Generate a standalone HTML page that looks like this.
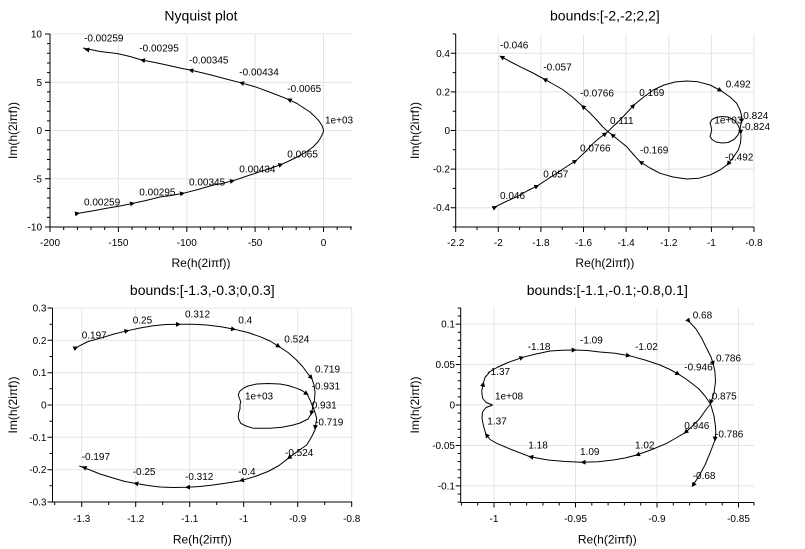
<!DOCTYPE html>
<html><head><meta charset="utf-8"><style>
html,body{margin:0;padding:0;background:#fff;}
svg{display:block;}
text{font-family:"Liberation Sans",Arial,sans-serif;fill:#000;}
.t{font-size:14px;text-anchor:middle;}
.al{font-size:12px;text-anchor:middle;}
.tx{font-size:10px;text-anchor:middle;}
.ty{font-size:10px;text-anchor:end;}
.d{font-size:10px;}
.g{stroke:#e4e4e4;stroke-width:1;fill:none;}
.ax{stroke:#000;stroke-width:1;fill:none;}
.c{stroke:#000;stroke-width:1;fill:none;stroke-linejoin:round;}
.m{stroke:none;fill:none;}
</style></head><body>
<svg width="805" height="549" viewBox="0 0 805 549" xmlns="http://www.w3.org/2000/svg">
<defs>
<marker id="a" viewBox="0 0 6 6" refX="4" refY="3" markerWidth="5" markerHeight="5" orient="auto" markerUnits="userSpaceOnUse"><path d="M0,0 L6,3 L0,6 z" fill="#000"/></marker>
</defs>
<rect width="805" height="549" fill="#fff"/>

<!-- ================= PLOT 1 ================= -->
<path class="g" d="M118.4,34V227M186.8,34V227M255.1,34V227M323.5,34V227M50,34H352M50,82.25H352M50,130.5H352M50,178.75H352"/>
<path class="ax" d="M50,227H352M50,34V227
M50,227v5M118.4,227v5M186.8,227v5M255.1,227v5M323.5,227v5
M63.7,227v3M77.4,227v3M91,227v3M104.7,227v3M132.1,227v3M145.8,227v3M159.4,227v3M173.1,227v3M200.4,227v3M214.1,227v3M227.8,227v3M241.4,227v3M268.8,227v3M282.5,227v3M296.2,227v3M309.8,227v3M337.2,227v3M350.9,227v3
M50,34h-5M50,82.25h-5M50,130.5h-5M50,178.75h-5M50,227h-5
M50,43.65h-3M50,53.3h-3M50,62.95h-3M50,72.6h-3M50,91.9h-3M50,101.55h-3M50,111.2h-3M50,120.85h-3M50,140.15h-3M50,149.8h-3M50,159.45h-3M50,169.1h-3M50,188.4h-3M50,198.05h-3M50,207.7h-3M50,217.35h-3"/>
<text class="t" x="201" y="20.5">Nyquist plot</text>
<text class="tx" x="50" y="246">-200</text>
<text class="tx" x="118.4" y="246">-150</text>
<text class="tx" x="186.8" y="246">-100</text>
<text class="tx" x="255.1" y="246">-50</text>
<text class="tx" x="323.5" y="246">0</text>
<text class="ty" x="42" y="37.5">10</text>
<text class="ty" x="42" y="85.75">5</text>
<text class="ty" x="42" y="134">0</text>
<text class="ty" x="42" y="182.25">-5</text>
<text class="ty" x="42" y="230.5">-10</text>
<text class="al" x="201" y="267">Re(h(2iπf))</text>
<text class="al" transform="translate(17,130.5) rotate(-90)">Im(h(2iπf))</text>

<polyline class="c" points="83,48 100,51.5 117,53.5 130,56.5 141.7,60 155,62.5 166.7,65 180,68 190,70 203,73 213,75.5 228,79.5 240.7,82.7 256.7,87.3 272,93 288.3,99.3 297,103.5 303,107.5 310,112 315,116.7 319,121 321.7,125 323,128 323.5,130.5 323,133 321,137 318.3,141.5 313,147 307,151.5 300,155.5 291,160 281.7,164.3 270,168.5 260,171.7 247,176 233.3,180.7 222,183.5 213.3,185 198,189.5 183.3,193.3 171,195.5 160,197 146,200.5 133.3,203.3 120,206 106.7,208.3 92,211 78.3,213.3"/>
<path class="m" marker-end="url(#a)" d="M297,103.5L288.3,99.3"/>
<path class="m" marker-end="url(#a)" d="M256.7,87.3L240.7,82.7"/>
<path class="m" marker-end="url(#a)" d="M203,73L190,70"/>
<path class="m" marker-end="url(#a)" d="M155,62.5L141.7,60"/>
<path class="m" marker-end="url(#a)" d="M100,51.5L86,49.5"/>
<path class="m" marker-end="url(#a)" d="M70,214.7L78.3,213.3"/>
<path class="m" marker-end="url(#a)" d="M120,206L133.3,203.3"/>
<path class="m" marker-end="url(#a)" d="M171,195.5L183.3,193.3"/>
<path class="m" marker-end="url(#a)" d="M222,183.5L233.3,180.7"/>
<path class="m" marker-end="url(#a)" d="M270,168.5L281.7,164.3"/>
<text class="d" x="84" y="41.7">-0.00259</text>
<text class="d" x="139.3" y="51.7">-0.00295</text>
<text class="d" x="189" y="63.3">-0.00345</text>
<text class="d" x="239.3" y="75.3">-0.00434</text>
<text class="d" x="287.3" y="92">-0.0065</text>
<text class="d" x="325" y="123.3">1e+03</text>
<text class="d" x="287.3" y="157.3">0.0065</text>
<text class="d" x="239.3" y="172.3">0.00434</text>
<text class="d" x="189" y="185.7">0.00345</text>
<text class="d" x="139.3" y="195.7">0.00295</text>
<text class="d" x="84" y="205.7">0.00259</text>

<!-- ================= PLOT 2 ================= -->
<path class="g" d="M498.3,34V227M540.9,34V227M583.5,34V227M626.1,34V227M668.8,34V227M711.4,34V227M754,34V227M455.7,53.3H754M455.7,91.9H754M455.7,130.5H754M455.7,169.1H754M455.7,207.7H754"/>
<path class="ax" d="M455.7,227H754M455.7,34V227
M455.7,227v5M498.3,227v5M540.9,227v5M583.5,227v5M626.1,227v5M668.8,227v5M711.4,227v5M754,227v5
M477,227v3M519.6,227v3M562.2,227v3M604.8,227v3M647.5,227v3M690.1,227v3M732.7,227v3
M455.7,53.3h-5M455.7,91.9h-5M455.7,130.5h-5M455.7,169.1h-5M455.7,207.7h-5
M455.7,34h-3M455.7,72.6h-3M455.7,111.2h-3M455.7,149.8h-3M455.7,188.4h-3M455.7,227h-3"/>
<text class="t" x="604.9" y="20.5">bounds:[-2,-2;2,2]</text>
<text class="tx" x="455.7" y="246">-2.2</text>
<text class="tx" x="498.3" y="246">-2</text>
<text class="tx" x="540.9" y="246">-1.8</text>
<text class="tx" x="583.5" y="246">-1.6</text>
<text class="tx" x="626.1" y="246">-1.4</text>
<text class="tx" x="668.8" y="246">-1.2</text>
<text class="tx" x="711.4" y="246">-1</text>
<text class="tx" x="754" y="246">-0.8</text>
<text class="ty" x="450" y="56.8">0.4</text>
<text class="ty" x="450" y="95.4">0.2</text>
<text class="ty" x="450" y="134">0</text>
<text class="ty" x="450" y="172.6">-0.2</text>
<text class="ty" x="450" y="211.2">-0.4</text>
<text class="al" x="604.9" y="267">Re(h(2iπf))</text>
<text class="al" transform="translate(419,130.5) rotate(-90)">Im(h(2iπf))</text>

<polyline class="c" points="500,56 510,61.5 520,66.7 532,72.5 544,79 553,84 563.3,90 573,97.5 582.3,106 590,113 596.7,120 602,126 606.7,130.7 611.7,134.5 619,140.5 626.7,146.7 633,154 640,161.7 650,168 660,173.3 673,177 686.7,179 699,178.2 710,175 720,170 727.7,164.3 733.5,157 738.3,150 740.5,143 741,136.7 740.7,132.5 740,130 738,125 734,120 728,117 722,116.5 716,117.5 712,119.5 710,123 711,126.5 711.7,130"/>
<polyline class="c" points="494.3,207.3 505,202 516.7,196.7 527,191 537.7,185.7 547,179.5 556.7,173.3 566,167 576,160.7 585,152 593.3,143.3 600,137.5 606,133.3 613,126.5 620,120 627,112.5 634,105 643,97.5 653.3,90 664,85 675,82 686.7,81 698,81.8 710,85 721,90.7 730,97 736.7,103.3 740,110 741.7,116 741.5,121.7 740.5,126 740,130 738,135 734,139.5 728,142.5 722,143 716,142 712,139.5 710,136.5 711,133 711.7,130"/>
<path class="m" marker-end="url(#a)" d="M740.5,128L740.7,133"/>
<path class="m" marker-end="url(#a)" d="M733.5,157L727.7,164.3"/>
<path class="m" marker-end="url(#a)" d="M650,168L640,161.7"/>
<path class="m" marker-end="url(#a)" d="M619,140.5L611.7,134.5"/>
<path class="m" marker-end="url(#a)" d="M590,113L582.3,106"/>
<path class="m" marker-end="url(#a)" d="M553,84L544,79"/>
<path class="m" marker-end="url(#a)" d="M510,61.5L501,56.7"/>
<path class="m" marker-end="url(#a)" d="M490,209.5L495.7,207"/>
<path class="m" marker-end="url(#a)" d="M527,191L537.7,185.7"/>
<path class="m" marker-end="url(#a)" d="M566,167L576,160.7"/>
<path class="m" marker-end="url(#a)" d="M600,137.5L606,133.3"/>
<path class="m" marker-end="url(#a)" d="M627,112.5L634,105"/>
<path class="m" marker-end="url(#a)" d="M710,85L721,90.7"/>
<path class="m" marker-end="url(#a)" d="M741.7,116L741.6,121.7"/>
<text class="d" x="500" y="48.5">-0.046</text>
<text class="d" x="543.3" y="70.5">-0.057</text>
<text class="d" x="580" y="96.5">-0.0766</text>
<text class="d" x="639.3" y="96">0.169</text>
<text class="d" x="725.7" y="87.5">0.492</text>
<text class="d" x="610" y="124">0.111</text>
<text class="d" x="714.3" y="123.3">1e+03</text>
<text class="d" x="743.3" y="119">0.824</text>
<text class="d" x="741.7" y="130">-0.824</text>
<text class="d" x="580" y="151.7">0.0766</text>
<text class="d" x="640" y="153.3">-0.169</text>
<text class="d" x="725" y="160.7">-0.492</text>
<text class="d" x="543.3" y="177.7">0.057</text>
<text class="d" x="500" y="199">0.046</text>

<!-- ================= PLOT 3 ================= -->
<path class="g" d="M81.7,308V502M135.7,308V502M189.7,308V502M243.7,308V502M297.7,308V502M351.7,308V502M52.5,308H352M52.5,340.3H352M52.5,372.7H352M52.5,405H352M52.5,437.3H352M52.5,469.7H352"/>
<path class="ax" d="M52.5,502H352M52.5,308V502
M81.7,502v5M135.7,502v5M189.7,502v5M243.7,502v5M297.7,502v5M351.7,502v5
M54.7,502v3M108.7,502v3M162.7,502v3M216.7,502v3M270.7,502v3M324.7,502v3
M52.5,308h-5M52.5,340.3h-5M52.5,372.7h-5M52.5,405h-5M52.5,437.3h-5M52.5,469.7h-5M52.5,502h-5
M52.5,324.2h-3M52.5,356.5h-3M52.5,388.8h-3M52.5,421.2h-3M52.5,453.5h-3M52.5,485.8h-3"/>
<text class="t" x="202.3" y="295">bounds:[-1.3,-0.3;0,0.3]</text>
<text class="tx" x="81.7" y="522">-1.3</text>
<text class="tx" x="135.7" y="522">-1.2</text>
<text class="tx" x="189.7" y="522">-1.1</text>
<text class="tx" x="243.7" y="522">-1</text>
<text class="tx" x="297.7" y="522">-0.9</text>
<text class="tx" x="351.7" y="522">-0.8</text>
<text class="ty" x="46.5" y="311.5">0.3</text>
<text class="ty" x="46.5" y="343.8">0.2</text>
<text class="ty" x="46.5" y="376.2">0.1</text>
<text class="ty" x="46.5" y="408.5">0</text>
<text class="ty" x="46.5" y="440.8">-0.1</text>
<text class="ty" x="46.5" y="473.2">-0.2</text>
<text class="ty" x="46.5" y="505.5">-0.3</text>
<text class="al" x="202.3" y="543.5">Re(h(2iπf))</text>
<text class="al" transform="translate(17,405) rotate(-90)">Im(h(2iπf))</text>

<polyline class="c" points="76.7,347.3 88,341.5 100,338.3 114,334 127.7,330.7 140,328 153.3,325.7 166,324.5 179.3,324.3 193,324.3 206.7,325 221,326.8 234.3,329.3 248,332.5 260,336.7 270,341 279.3,346.7 288,352.5 296,359.5 303,367 308,374 311.7,378.3 314,385 315,392 314.5,400 312.7,406.7 311.7,413 308,419 300,423 293.3,425 282,427.3 270,428.3 260,428.3 253.3,428.3 246,426 240.7,423.3 238.3,418 238.5,413.3 240,409 240,405"/>
<polyline class="c" points="79.3,466 90,470 100,474 113,478 125,481.5 135,483.3 148,485.5 160,487 173,487.5 186.7,487.3 200,486.5 213,485 227,483 240.7,480.7 255,476.5 268,471.5 279,465.5 288.3,458.3 298,451 306.7,445 311.5,437 315,430 316.7,418.3 314.5,411 312.7,406.7 310,400 307.3,394.3 302,390.5 296.7,388.3 288,385.5 280,384 268,383.5 256.7,384 248,386 243.3,388.3 239.5,391.5 238.3,395 239.5,398.5 240.7,401.7 240,405"/>
<path class="m" marker-end="url(#a)" d="M70,350.5L76.7,347.3"/>
<path class="m" marker-end="url(#a)" d="M114,334L127.7,330.7"/>
<path class="m" marker-end="url(#a)" d="M166,324.5L179.3,324.3"/>
<path class="m" marker-end="url(#a)" d="M221,326.8L234.3,329.3"/>
<path class="m" marker-end="url(#a)" d="M270,341L279.3,346.7"/>
<path class="m" marker-end="url(#a)" d="M308,374L311.7,378.3"/>
<path class="m" marker-end="url(#a)" d="M312.7,406.7L311.2,414"/>
<path class="m" marker-end="url(#a)" d="M302,390.5L307.3,394.3"/>
<path class="m" marker-end="url(#a)" d="M316.7,418.3L315,428.3"/>
<path class="m" marker-end="url(#a)" d="M298,451L288.3,458.3"/>
<path class="m" marker-end="url(#a)" d="M255,476.5L240.7,480.7"/>
<path class="m" marker-end="url(#a)" d="M200,486.5L186.7,487.3"/>
<path class="m" marker-end="url(#a)" d="M148,485.5L135,483.3"/>
<path class="m" marker-end="url(#a)" d="M90,470L83.3,467"/>
<text class="d" x="81.7" y="338.3">0.197</text>
<text class="d" x="132.7" y="323.3">0.25</text>
<text class="d" x="185" y="317.7">0.312</text>
<text class="d" x="238.3" y="323.3">0.4</text>
<text class="d" x="284.3" y="342.7">0.524</text>
<text class="d" x="315" y="372.7">0.719</text>
<text class="d" x="311.7" y="389.3">-0.931</text>
<text class="d" x="245" y="399.3">1e+03</text>
<text class="d" x="311.7" y="408.3">0.931</text>
<text class="d" x="315" y="425.7">-0.719</text>
<text class="d" x="285" y="456">-0.524</text>
<text class="d" x="81.7" y="460">-0.197</text>
<text class="d" x="132.7" y="475">-0.25</text>
<text class="d" x="185" y="480">-0.312</text>
<text class="d" x="238.3" y="475">-0.4</text>

<!-- ================= PLOT 4 ================= -->
<path class="g" d="M494,308V502.5M575.5,308V502.5M657,308V502.5M738.5,308V502.5M460.7,324.1H754M460.7,364.5H754M460.7,405H754M460.7,445.5H754M460.7,485.9H754"/>
<path class="ax" d="M460.7,502.5H754M460.7,308V502.5
M494,502.5v5M575.5,502.5v5M657,502.5v5M738.5,502.5v5
M461.4,502.5v3M477.7,502.5v3M510.3,502.5v3M526.6,502.5v3M542.9,502.5v3M559.2,502.5v3M591.8,502.5v3M608.1,502.5v3M624.4,502.5v3M640.7,502.5v3M673.3,502.5v3M689.6,502.5v3M705.9,502.5v3M722.2,502.5v3M754,502.5v3
M460.7,324.1h-5M460.7,364.5h-5M460.7,405h-5M460.7,445.5h-5M460.7,485.9h-5
M460.7,308h-3M460.7,316h-3M460.7,332.2h-3M460.7,340.3h-3M460.7,348.4h-3M460.7,356.5h-3M460.7,372.6h-3M460.7,380.7h-3M460.7,388.8h-3M460.7,396.9h-3M460.7,413.1h-3M460.7,421.2h-3M460.7,429.3h-3M460.7,437.4h-3M460.7,453.5h-3M460.7,461.6h-3M460.7,469.7h-3M460.7,477.8h-3M460.7,494h-3M460.7,502.1h-3"/>
<text class="t" x="607.3" y="295">bounds:[-1.1,-0.1;-0.8,0.1]</text>
<text class="tx" x="494" y="522">-1</text>
<text class="tx" x="575.5" y="522">-0.95</text>
<text class="tx" x="657" y="522">-0.9</text>
<text class="tx" x="738.5" y="522">-0.85</text>
<text class="ty" x="455" y="327.6">0.1</text>
<text class="ty" x="455" y="368">0.05</text>
<text class="ty" x="455" y="408.5">0</text>
<text class="ty" x="455" y="449">-0.05</text>
<text class="ty" x="455" y="489.4">-0.1</text>
<text class="al" x="607.3" y="543.5">Re(h(2iπf))</text>
<text class="al" transform="translate(419,405) rotate(-90)">Im(h(2iπf))</text>

<polyline class="c" points="689.3,321.7 696,329 701.7,338.3 707,349 711,357 713.3,364.3 715,372 715.5,381.7 714,393 710.5,404 705,411 700,418.3 693,425.5 685,432.7 676,438 666.7,443.3 652,449.5 636.7,455 625,458 613.3,460 598,461.7 582.3,462.3 565,461.5 548,460 530,456.7 510,449 496.7,443.3 490,439.5 486,434.3 483.5,426 482,418.3 482.5,412 486,407.5 492.7,405"/>
<polyline class="c" points="692.7,485.7 699,476 705,465 710,453 715,440 715.8,432 715.3,425 714,416 710.5,404 705,396 699,389 693.3,384.5 686,379 678.7,374.3 670,369.5 660,365 645,360 629.3,355.7 615,353.2 600,352 587,350.5 575,350 562,350.2 550,351 536,354 522.7,357.3 508,362.5 497,367.5 490,371.7 485,377.5 483.3,383.3 481.7,391 482.5,398 486,402.5 492.7,405"/>
<path class="m" marker-end="url(#a)" d="M685,316L689.3,321.7"/>
<path class="m" marker-end="url(#a)" d="M711,357L713.3,364.3"/>
<path class="m" marker-end="url(#a)" d="M714,393L710.5,403"/>
<path class="m" marker-end="url(#a)" d="M693,425.5L685,432.7"/>
<path class="m" marker-end="url(#a)" d="M652,449.5L636.7,455"/>
<path class="m" marker-end="url(#a)" d="M598,461.7L582.3,462.3"/>
<path class="m" marker-end="url(#a)" d="M548,460L530,456.7"/>
<path class="m" marker-end="url(#a)" d="M490,439.5L486,434.3"/>
<path class="m" marker-end="url(#a)" d="M481.7,391L483.3,383.3"/>
<path class="m" marker-end="url(#a)" d="M508,362.5L522.7,357.3"/>
<path class="m" marker-end="url(#a)" d="M562,350.2L575,350"/>
<path class="m" marker-end="url(#a)" d="M615,353.2L629.3,355.7"/>
<path class="m" marker-end="url(#a)" d="M670,369.5L678.7,374.3"/>
<path class="m" marker-end="url(#a)" d="M715.5,430L715,440"/>
<path class="m" marker-end="url(#a)" d="M699,476L692.7,485.7"/>
<text class="d" x="692.7" y="318.3">0.68</text>
<text class="d" x="580" y="343.3">-1.09</text>
<text class="d" x="527.7" y="350">-1.18</text>
<text class="d" x="635" y="350">-1.02</text>
<text class="d" x="716" y="361.7">0.786</text>
<text class="d" x="684.3" y="370.7">-0.946</text>
<text class="d" x="487.3" y="375">-1.37</text>
<text class="d" x="495" y="399.3">1e+08</text>
<text class="d" x="711.7" y="399.3">0.875</text>
<text class="d" x="487.3" y="424.3">1.37</text>
<text class="d" x="684.3" y="429">0.946</text>
<text class="d" x="715" y="437.7">-0.786</text>
<text class="d" x="528.3" y="448.3">1.18</text>
<text class="d" x="635" y="448.3">1.02</text>
<text class="d" x="580" y="455">1.09</text>
<text class="d" x="692.7" y="479">-0.68</text>
</svg>
</body></html>
